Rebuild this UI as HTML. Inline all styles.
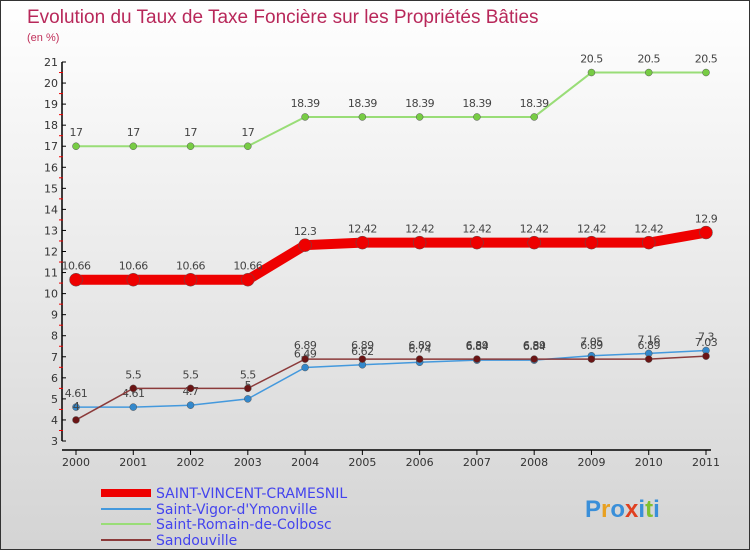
<!DOCTYPE html>
<html><head><meta charset="utf-8"><style>
body{margin:0}
#c{width:750px;height:550px;position:relative;overflow:hidden;background:linear-gradient(#ffffff,#d4d4d4);box-sizing:border-box;border:1px solid #333;font-family:"DejaVu Sans","Liberation Sans",sans-serif}
</style></head><body>
<div id="c">
<svg id="s" width="750" height="550" style="position:absolute;left:0;top:0">
<text x="26" y="22" font-size="19" fill="#b8285a" font-family="Liberation Sans, sans-serif">Evolution du Taux de Taxe Foncière sur les Propriétés Bâties</text>
<text x="26" y="40" font-size="11" fill="#c0305a" font-family="Liberation Sans, sans-serif">(en %)</text>
</svg>
</div>
<script>
const years=["2000","2001","2002","2003","2004","2005","2006","2007","2008","2009","2010","2011"];
const yTicks=[3,4,5,6,7,8,9,10,11,12,13,14,15,16,17,18,19,20,21];
const seriesNames=["SAINT-VINCENT-CRAMESNIL","Saint-Vigor-d'Ymonville","Saint-Romain-de-Colbosc","Sandouville"];
const svc=[10.66,10.66,10.66,10.66,12.3,12.42,12.42,12.42,12.42,12.42,12.42,12.9];
const svy=[4.61,4.61,4.7,5,6.49,6.62,6.74,6.84,6.84,7.05,7.16,7.3];
const src=[17,17,17,17,18.39,18.39,18.39,18.39,18.39,20.5,20.5,20.5];
const san=[4,5.5,5.5,5.5,6.89,6.89,6.89,6.89,6.89,6.89,6.89,7.03];
const NS="http://www.w3.org/2000/svg";
const s=document.getElementById('s');
function X(i){return 75+i*(630/11);}
function Y(v){return 61+(21-v)*(379/18);}
function mk(t,a,p){const e=document.createElementNS(NS,t);for(const k in a)e.setAttribute(k,a[k]);(p||s).appendChild(e);return e;}
const ax=mk('g',{});


mk('line',{x1:61,y1:Y(21),x2:61,y2:Y(3),stroke:'#000','stroke-width':1.5},ax);
mk('line',{x1:61,y1:449,x2:X(11)+5,y2:449,stroke:'#000','stroke-width':1.5},ax);
yTicks.forEach(v=>{
 mk('line',{x1:61,y1:Y(v),x2:65,y2:Y(v),stroke:'#000'},ax);
 if(v<21)mk('line',{x1:58,y1:Y(v+0.5),x2:62,y2:Y(v+0.5),stroke:'#e00'},ax);
 const t=mk('text',{x:57,y:Y(v)+4,'text-anchor':'end','font-size':11,fill:'#333'},ax);
 t.textContent=v;
 
 
});
years.forEach((y,i)=>{
 mk('line',{x1:X(i),y1:449,x2:X(i),y2:454,stroke:'#000'},ax);
 const t=mk('text',{x:X(i),y:465,'text-anchor':'middle','font-size':11,fill:'#333'},ax);
 t.textContent=y;
 
 
});
function series(d,color,w,r,dot,name){
 const g=mk('g',{});
 
 
 mk('polyline',{points:d.map((v,i)=>X(i)+','+Y(v)).join(' '),fill:'none',stroke:color,'stroke-width':w},g);
 d.forEach((v,i)=>{
  const c=mk('circle',{cx:X(i),cy:Y(v),r:r,fill:dot,stroke:'#555','stroke-width':0.5},g);
  
  
  const t=mk('text',{x:X(i),y:Y(v)-10,'text-anchor':'middle','font-size':11,fill:'#444','letter-spacing':'-0.5'},g);
  t.textContent=v;
  
  
 });
}
series(src,'#99dd77',2,3.5,'#77cc44','series-saint-romain');
series(svy,'#4499dd',1.5,3.5,'#3388cc','series-saint-vigor');
series(san,'#8b3a3a',1.5,3.5,'#6b1515','series-sandouville');
series(svc,'#ee0000',10,6.5,'#ee0000','series-saint-vincent');
const cols=['#ee0000','#4499dd','#99dd77','#8b3a3a'],ws=[8,2,2,2],ly=[492,508,523,539];
seriesNames.forEach((n,i)=>{
 const g=mk('g',{});
 
 
 mk('line',{x1:100,y1:ly[i],x2:150,y2:ly[i],stroke:cols[i],'stroke-width':ws[i]},g);
 const t=mk('text',{x:155,y:ly[i]+5,'font-size':14,fill:'#4444ee'},g);
 t.textContent=n;
});
const p=mk('text',{x:584,y:516,'font-size':24,'font-weight':'bold','font-family':'Liberation Sans, sans-serif'});


[['P','#3a8fd9'],['r','#e8a020'],['o','#3a8fd9'],['x','#e04020'],['i','#3a8fd9'],['t','#80c030'],['i','#3a8fd9']].forEach(([ch,cl])=>{
 const ts=mk('tspan',{fill:cl},p);ts.textContent=ch;
});
</script>
</body></html>
